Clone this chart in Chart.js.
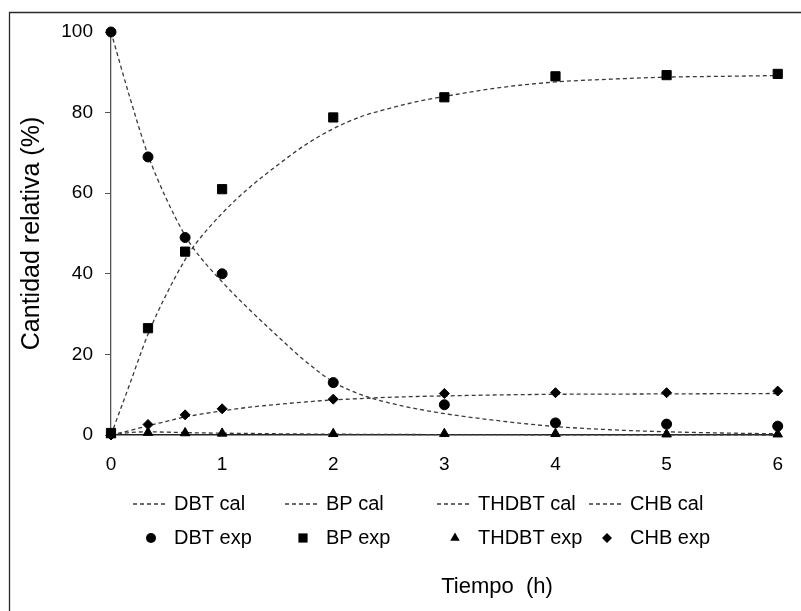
<!DOCTYPE html>
<html>
<head>
<meta charset="utf-8">
<script src="https://cdn.jsdelivr.net/npm/chart.js@4.4.1/dist/chart.umd.min.js"></script>
<style>
  html, body { margin: 0; padding: 0; background: #fff; }
</style>
</head>
<body>
<canvas id="grafico" width="801" height="611"></canvas>
<script>
// puntos experimentales ==========================
const tiempoExp = [0, 0.333, 0.667, 1, 2, 3, 4, 5, 6];
const dbtExp   = [100, 69, 49, 40, 13, 7.5, 3, 2.7, 2.2];
const bpExp    = [0.5, 26.5, 45.5, 61, 78.8, 83.8, 89, 89.3, 89.6];
const thdbtExp = [0, 0.6, 0.5, 0.4, 0.3, 0.3, 0.3, 0.2, 0.2];
const chbExp   = [0, 2.6, 5, 6.5, 8.9, 10.3, 10.5, 10.5, 10.9];

// curvas calculadas ==============================
const tiempoCal = [0, 0.167, 0.333, 0.5, 0.667, 0.75, 1, 1.25, 1.5, 1.75, 2, 2.25, 2.5, 2.75, 3, 3.5, 4, 4.5, 5, 5.5, 6];
const dbtCal   = [100, 84, 69.5, 58.5, 49.5, 46, 38, 31, 24.5, 18.3, 13.2, 10, 8, 6.5, 5.3, 3.5, 2.1, 1.3, 0.8, 0.5, 0.3];
const bpCal    = [0, 12.5, 25, 35, 43.5, 47, 55, 61.5, 67, 72, 76, 79, 81, 82.7, 84, 86.2, 87.6, 88.3, 88.8, 89, 89.2];
const thdbtCal = [0, 0.6, 0.8, 0.7, 0.6, 0.55, 0.45, 0.38, 0.3, 0.25, 0.2, 0.17, 0.15, 0.12, 0.1, 0.08, 0.05, 0.04, 0.03, 0.02, 0];
const chbCal   = [0, 1.1, 2.3, 3.4, 4.5, 4.9, 6, 6.9, 7.6, 8.2, 8.7, 9.05, 9.35, 9.55, 9.7, 9.95, 10.1, 10.15, 10.2, 10.25, 10.3];

const ticksX = [0, 1, 2, 3, 4, 5, 6];
const ticksY = [0, 20, 40, 60, 80, 100];

const tituloX = 'Tiempo  (h)';
const tituloY = 'Cantidad relativa (%)';

const fuente = "'Liberation Sans', Arial, sans-serif";

const pares = (xs, ys) => xs.map((x, i) => ({ x: x, y: ys[i] }));

function curva(label, ys) {
    return {
        label: label,
        grupo: 'cal',
        data: pares(tiempoCal, ys),
        borderColor: '#3a3a3a',
        borderWidth: 1.3,
        borderDash: [4, 3],
        pointRadius: 0,
        fill: false,
        cubicInterpolationMode: 'monotone',
        clip: false,
        order: 2
    };
}

function puntos(label, ys, estilo, radio) {
    return {
        label: label,
        grupo: 'exp',
        data: pares(tiempoExp, ys),
        showLine: false,
        pointStyle: estilo,
        pointRadius: radio,
        backgroundColor: '#000',
        borderColor: '#000',
        borderWidth: 1,
        clip: false,
        order: 1
    };
}

// marco exterior (solo izquierda y arriba visibles)
const marco = {
    id: 'marco',
    beforeDraw(chart) {
        const ctx = chart.ctx;
        ctx.save();
        ctx.strokeStyle = '#2a2a2a';
        ctx.lineWidth = 1.3;
        ctx.beginPath();
        ctx.moveTo(9.5, chart.height);
        ctx.lineTo(9.5, 12.5);
        ctx.lineTo(chart.width, 12.5);
        ctx.stroke();
        ctx.restore();
    }
};

function marcador(ctx, estilo, x, y, r) {
    ctx.beginPath();
    if (estilo === 'circle') {
        ctx.arc(x, y, r, 0, Math.PI * 2);
    } else if (estilo === 'rect') {
        const s = r * Math.SQRT1_2;
        ctx.rect(x - s, y - s, 2 * s, 2 * s);
    } else if (estilo === 'triangle') {
        ctx.moveTo(x, y - r);
        ctx.lineTo(x + r * 0.866, y + r * 0.5);
        ctx.lineTo(x - r * 0.866, y + r * 0.5);
        ctx.closePath();
    } else {
        ctx.moveTo(x, y - r);
        ctx.lineTo(x + r, y);
        ctx.lineTo(x, y + r);
        ctx.lineTo(x - r, y);
        ctx.closePath();
    }
    ctx.fill();
}

// leyenda en dos filas y cuatro columnas + título del eje x
const leyenda = {
    id: 'leyenda',
    afterDraw(chart) {
        const ctx = chart.ctx;
        const cal = chart.data.datasets.filter(d => d.grupo === 'cal');
        const exp = chart.data.datasets.filter(d => d.grupo === 'exp');
        const x0 = 174, paso = 152, fila1 = 504, fila2 = 538;

        ctx.save();
        ctx.font = '20px ' + fuente;
        ctx.fillStyle = '#000';
        ctx.textBaseline = 'middle';
        ctx.textAlign = 'left';

        cal.forEach((d, i) => {
            const tx = x0 + i * paso;
            ctx.save();
            ctx.strokeStyle = d.borderColor;
            ctx.lineWidth = d.borderWidth;
            ctx.setLineDash(d.borderDash);
            ctx.beginPath();
            ctx.moveTo(tx - 41, fila1);
            ctx.lineTo(tx - 7, fila1);
            ctx.stroke();
            ctx.restore();
            ctx.fillText(d.label, tx, fila1);
        });

        exp.forEach((d, i) => {
            const tx = x0 + i * paso;
            ctx.fillStyle = '#000';
            marcador(ctx, d.pointStyle, tx - 23, fila2, d.pointRadius);
            ctx.fillText(d.label, tx, fila2);
        });

        ctx.font = '22px ' + fuente;
        ctx.textAlign = 'center';
        ctx.fillText(tituloX, 497, 587);
        ctx.restore();
    }
};

const ctx = document.getElementById('grafico').getContext('2d');

new Chart(ctx, {
    type: 'line',
    data: {
        datasets: [
            curva('DBT cal', dbtCal),
            curva('BP cal', bpCal),
            curva('THDBT cal', thdbtCal),
            curva('CHB cal', chbCal),
            puntos('DBT exp', dbtExp, 'circle', 5),
            puntos('BP exp', bpExp, 'rect', 6.5),
            puntos('THDBT exp', thdbtExp, 'triangle', 5.5),
            puntos('CHB exp', chbExp, 'rectRot', 5)
        ]
    },
    options: {
        responsive: false,
        animation: false,
        layout: { padding: { top: 32, right: 13, left: 0, bottom: 0 } },
        plugins: {
            legend: { display: false },
            tooltip: { enabled: false }
        },
        scales: {
            x: {
                type: 'linear',
                min: ticksX[0],
                max: ticksX[ticksX.length - 1],
                afterBuildTicks: (scale) => { scale.ticks = ticksX.map(v => ({ value: v })); },
                ticks: { padding: 18, color: '#000', font: { family: fuente, size: 19 } },
                grid: { display: false, drawTicks: false },
                border: { display: true, color: '#222', width: 1.5 },
                afterFit: (scale) => { scale.height = 176; }
            },
            y: {
                type: 'linear',
                min: ticksY[0],
                max: ticksY[ticksY.length - 1],
                afterBuildTicks: (scale) => { scale.ticks = ticksY.map(v => ({ value: v })); },
                ticks: { padding: 12, color: '#000', font: { family: fuente, size: 19 } },
                grid: { drawOnChartArea: false, drawTicks: true, tickLength: 6, color: '#555' },
                border: { display: true, color: '#555', width: 1.3 },
                title: {
                    display: true,
                    text: tituloY,
                    color: '#000',
                    font: { family: fuente, size: 25 },
                    padding: { top: 17, bottom: 0 }
                },
                afterFit: (scale) => { scale.width = 111; }
            }
        }
    },
    plugins: [marco, leyenda]
});
</script>
</body>
</html>
